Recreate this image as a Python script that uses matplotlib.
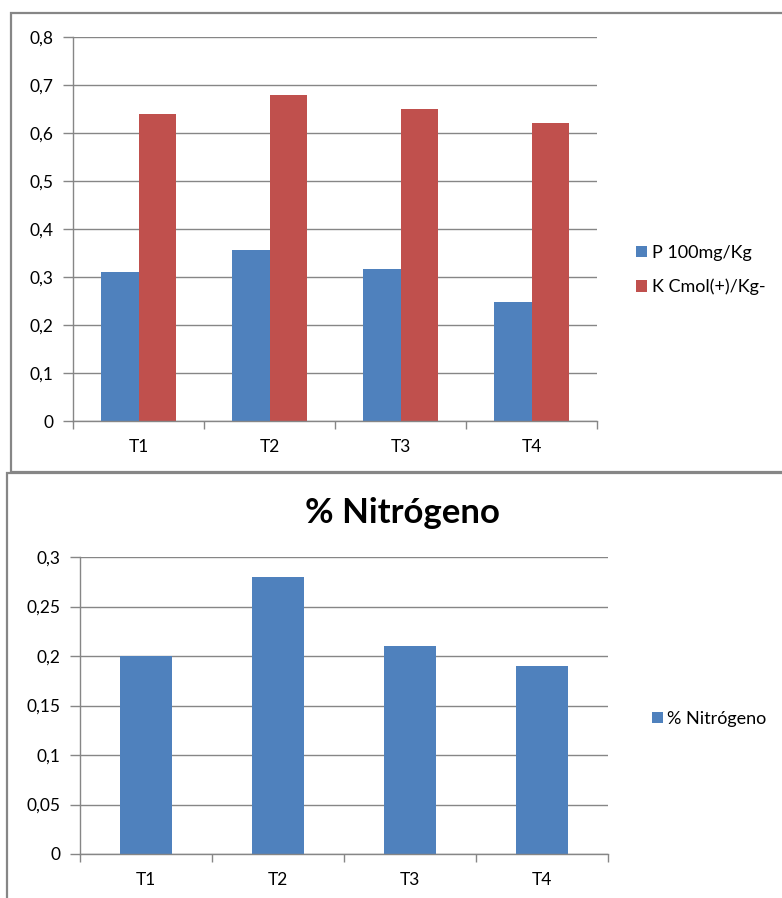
import numpy as np
import matplotlib.pyplot as plt
from matplotlib.patches import Rectangle
from matplotlib.ticker import FuncFormatter, FixedLocator

categorias = ["T1", "T2", "T3", "T4"]
fosforo = [0.31, 0.356, 0.316, 0.248]
potasio = [0.64, 0.68, 0.651, 0.621]
nitrogeno = [0.2, 0.28, 0.21, 0.19]

azul = "#4F81BD"
rojo = "#C0504D"
gris = "#868686"

plt.rcParams['font.family'] = ['Lato', 'DejaVu Sans']

W, H = 782, 898
fig = plt.figure(figsize=(W / 100, H / 100), dpi=100)


def px(x0, y0, x1, y1):
    # caja en pixeles -> coordenadas de figura
    return [x0 / W, 1 - y1 / H, (x1 - x0) / W, (y1 - y0) / H]


def coma(v, pos):
    s = ("%.2f" % v).rstrip("0").rstrip(".")
    return s.replace(".", ",")


def estilo(ax, ymax, paso):
    for s in ["top", "right"]:
        ax.spines[s].set_visible(False)
    for s in ["left", "bottom"]:
        ax.spines[s].set_color(gris)
        ax.spines[s].set_linewidth(1.0)
    ax.set_xlim(-0.5, 3.5)
    ax.set_ylim(0, ymax)
    ax.set_yticks(np.arange(0, ymax + paso / 2, paso))
    ax.yaxis.set_major_formatter(FuncFormatter(coma))
    ax.yaxis.grid(True, color=gris, linewidth=1.0)
    ax.set_axisbelow(True)
    ax.set_xticks(range(4))
    ax.set_xticklabels(categorias)
    ax.xaxis.set_minor_locator(FixedLocator([-0.5, 0.5, 1.5, 2.5, 3.5]))
    ax.tick_params(axis="x", which="major", length=0, pad=13, labelsize=12.5)
    ax.tick_params(axis="x", which="minor", length=6, color=gris, width=1.0)
    ax.tick_params(axis="y", length=7, color=gris, width=1.0, pad=7, labelsize=12.5)


# marcos de los graficos (detras de los ejes)
fig.patches.append(Rectangle((11 / W, 1 - 472 / H), 1, (472 - 13) / H, transform=fig.transFigure,
                             facecolor="white", edgecolor=gris, linewidth=1.6, zorder=-10))
fig.patches.append(Rectangle((7 / W, -0.1), 1, 0.1 + (898 - 473) / H, transform=fig.transFigure,
                             facecolor="white", edgecolor=gris, linewidth=1.6, zorder=-9))

# grafico P y K
ax1 = fig.add_axes(px(73, 37, 597, 421))
x = np.arange(4)
w = 0.29
ax1.bar(x - w / 2, fosforo, w, color=azul, label="P 100mg/Kg")
ax1.bar(x + w / 2, potasio, w, color=rojo, label="K Cmol(+)/Kg-")
estilo(ax1, 0.8, 0.1)
ax1.legend(loc="center left", bbox_to_anchor=(620 / W, 1 - 270 / H), bbox_transform=fig.transFigure,
           frameon=False, fontsize=13, handlelength=0.6, handleheight=0.6, handletextpad=0.3,
           labelspacing=1.0)

# grafico nitrogeno
ax2 = fig.add_axes(px(80, 557, 608, 854))
ax2.bar(x, nitrogeno, 0.394, color=azul, label="% Nitrógeno")
estilo(ax2, 0.3, 0.05)
ax2.legend(loc="center left", bbox_to_anchor=(636 / W, 1 - 719 / H), bbox_transform=fig.transFigure,
           frameon=False, fontsize=13, handlelength=0.6, handleheight=0.6, handletextpad=0.2)
fig.text(402 / W, 1 - 513 / H, "% Nitrógeno", ha="center", va="center",
         fontsize=25, fontweight="bold")

fig.savefig("out.png", dpi=100)
